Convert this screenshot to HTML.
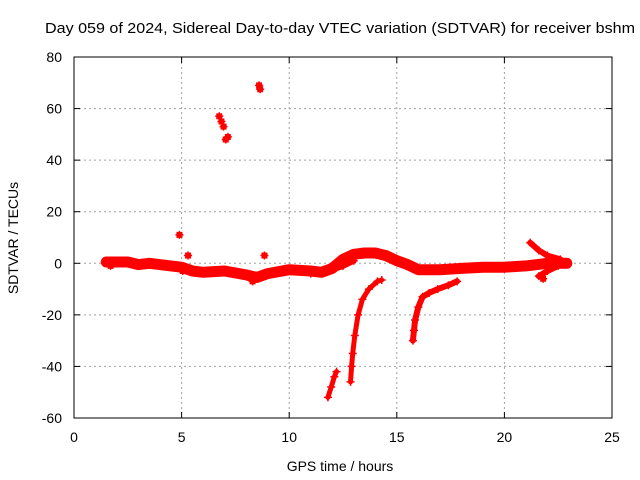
<!DOCTYPE html>
<html><head><meta charset="utf-8"><style>
body{margin:0;background:#fff}
svg{display:block;font-family:"Liberation Sans",sans-serif}
</style></head><body>
<svg id="chart" width="640" height="480" viewBox="0 0 640 480">
<rect width="640" height="480" fill="#fff"/>
<g id="grid"></g><g id="axes"></g><g id="marks"></g>
<text x="45" y="33" font-size="15" textLength="590" lengthAdjust="spacingAndGlyphs">Day 059 of 2024, Sidereal Day-to-day VTEC variation (SDTVAR) for receiver bshm</text>
<text x="340" y="471" font-size="14" text-anchor="middle">GPS time / hours</text>
<text transform="translate(18,238) rotate(-90)" font-size="14" text-anchor="middle">SDTVAR / TECUs</text>
</svg>
<script>
const xTicks=[0,5,10,15,20,25];
const yTicks=[-60,-40,-20,0,20,40,60,80];
// tracks: hours and values
const mainH=[1.5,2.5,3.0,3.5,4.5,5.0,5.5,6.0,7.0,8.0,8.5,9.0,10.0,11.0,11.5,12.0,12.5,13.0,13.5,14.0,14.5,15.0,15.5,16.0,17.0,18.0,19.0,20.0,21.0,22.0,22.9];
const mainV=[0.5,0.5,-0.5,0,-1,-1.5,-3,-3.5,-3,-4.5,-5.5,-4,-2.5,-3,-3.5,-2,1.5,3.5,4,4,3,1,-0.5,-2.5,-2.5,-2,-1.5,-1.5,-1,0,0];
const lowH=[11.0,11.5,12.0,12.5,13.0];
const lowV=[-4,-3.5,-2.5,-1,1];
const arrUpH=[21.2,21.6,22.0,22.6];
const arrUpV=[8,5,3,1.5];
const arrDnH=[21.6,22.0,22.5];
const arrDnV=[-5,-3,-1];
const c1H=[12.85,12.9,12.95,13.05,13.2,13.4,13.7,14.1,14.3];
const c1V=[-46,-40,-35,-28,-20,-14,-10,-7,-6.5];
const c2H=[15.75,15.8,15.85,16.0,16.2,16.5,16.9,17.4,17.8];
const c2V=[-30,-26,-22,-17,-13,-11.5,-10,-8.5,-7];
const c3H=[11.8,11.95,12.1,12.2];
const c3V=[-52,-48,-44,-42];
const ptH=[6.75,6.85,6.95,7.05,7.15,8.6,8.65,4.9,5.3,8.85,1.7,5.05,21.8,8.3];
const ptV=[57,55,53,48,49,69,67.5,11,3,3,-1,-3,-6,-7];
const X=h=>74+h*538/25, Y=v=>57+(80-v)*361/140;
const NS="http://www.w3.org/2000/svg";
function mk(t,a,p){const e=document.createElementNS(NS,t);for(const k in a)e.setAttribute(k,a[k]);p.appendChild(e);return e;}
const G=document.getElementById('grid'),A=document.getElementById('axes'),M=document.getElementById('marks');
xTicks.forEach(t=>{
 if(t>0&&t<25){const l=mk('line',{x1:X(t),x2:X(t),y1:57,y2:418,stroke:'#a0a0a0','stroke-dasharray':'2,3'},G);
 }
 mk('line',{x1:X(t),x2:X(t),y1:418,y2:412,stroke:'#000'},A);
 mk('line',{x1:X(t),x2:X(t),y1:57,y2:63,stroke:'#000'},A);
 const tx=mk('text',{x:X(t),y:442,'font-size':14,'text-anchor':'middle'},A);tx.textContent=t;
 
});
yTicks.forEach(t=>{
 if(t>-60&&t<80){const l=mk('line',{x1:74,x2:612,y1:Y(t),y2:Y(t),stroke:'#a0a0a0','stroke-dasharray':'2,3'},G);
 }
 mk('line',{x1:74,x2:80,y1:Y(t),y2:Y(t),stroke:'#000'},A);
 mk('line',{x1:612,x2:606,y1:Y(t),y2:Y(t),stroke:'#000'},A);
 const tx=mk('text',{x:62,y:Y(t)+5,'font-size':14,'text-anchor':'end'},A);tx.textContent=t;
 
});
const fr=mk('rect',{x:74,y:57,width:538,height:361,fill:'none',stroke:'#000'},A);

function track(H,V,w,name){
 const d=H.map((h,i)=>(i?'L':'M')+X(h).toFixed(1)+','+Y(V[i]).toFixed(1)).join('');
 const p=mk('path',{d:d,fill:'none',stroke:'#f00','stroke-width':w,'stroke-linejoin':'round','stroke-linecap':'round'},M);
 
 H.forEach((h,i)=>plus(h,V[i]));
}
function plus(h,v){const x=X(h),y=Y(v);
 const p=mk('path',{d:`M${x-4},${y}H${x+4}M${x},${y-4}V${y+4}`,stroke:'#f00','stroke-width':1.5},M);
 }
track(mainH,mainV,11,'main-track');
track(lowH,lowV,6,'lower-branch-track');
track(arrUpH,arrUpV,6,'arrow-upper-track');
track(arrDnH,arrDnV,6,'arrow-lower-track');
track(c1H,c1V,5,'descending-arc-1');
track(c2H,c2V,6,'descending-arc-2');
track(c3H,c3V,5,'descending-segment-3');
ptH.forEach((h,i)=>{const r=mk('rect',{x:X(h)-3,y:Y(ptV[i])-3,width:6,height:6,fill:'#f00'},M);
 plus(h,ptV[i]);});
</script>
</body></html>
